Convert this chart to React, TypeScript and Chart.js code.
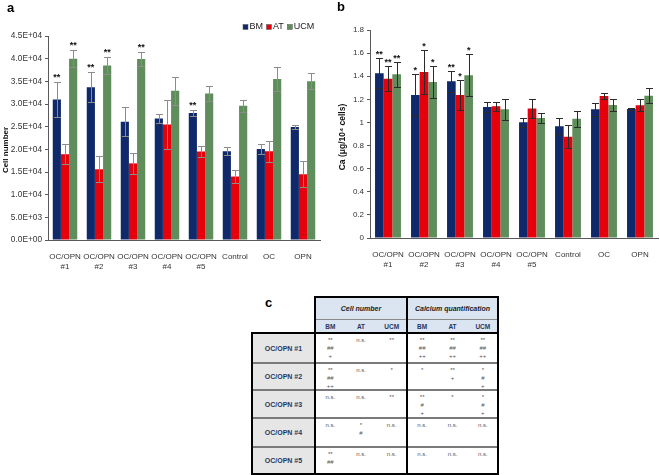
import React, { useEffect, useRef } from "react";
import { Chart, registerables } from "chart.js";
Chart.register(...registerables);

const FONT = '"Liberation Sans", Arial, Helvetica, sans-serif';

// ---------- data ----------
const categories: (string | string[])[] = [
  ["OC/OPN", "#1"], ["OC/OPN", "#2"], ["OC/OPN", "#3"], ["OC/OPN", "#4"], ["OC/OPN", "#5"],
  "Control", "OC", "OPN",
];
const seriesNames = ["BM", "AT", "UCM"];

// panel a: cell number
const cellBM = [31000, 33700, 26100, 26800, 28000, 19600, 20100, 24900];
const cellBMErr = [3800, 3300, 3200, 1100, 600, 900, 1100, 400];
const cellAT = [18900, 15600, 16900, 25500, 19500, 14000, 19600, 14500];
const cellATErr = [2200, 2900, 2400, 5400, 1200, 1400, 2300, 2900];
const cellUCM = [40000, 38500, 39900, 32900, 32300, 29600, 35500, 35000];
const cellUCMErr = [1900, 1900, 1500, 3100, 1700, 1300, 2600, 1800];
const cellBMStars = ["**", "**", "", "", "**", "", "", ""];
const cellATStars = ["", "", "", "", "", "", "", ""];
const cellUCMStars = ["**", "**", "**", "", "", "", "", ""];
const yTicksA = ["0.0E+00", "5.0E+03", "1.0E+04", "1.5E+04", "2.0E+04", "2.5E+04", "3.0E+04", "3.5E+04", "4.0E+04", "4.5E+04"];

// panel b: calcium
const caBM = [1.426, 1.238, 1.356, 1.134, 1.001, 0.967, 1.114, 1.117];
const caBMErr = [0.13, 0.18, 0.09, 0.04, 0.04, 0.07, 0.055, 0.005];
const caAT = [1.379, 1.437, 1.238, 1.14, 1.12, 0.877, 1.229, 1.149];
const caATErr = [0.11, 0.19, 0.13, 0.04, 0.08, 0.1, 0.03, 0.05];
const caUCM = [1.417, 1.351, 1.408, 1.114, 1.039, 1.033, 1.152, 1.232];
const caUCMErr = [0.11, 0.14, 0.18, 0.09, 0.04, 0.07, 0.055, 0.065];
const caBMStars = ["**", "*", "**", "", "", "", "", ""];
const caATStars = ["**", "*", "*", "", "", "", "", ""];
const caUCMStars = ["**", "*", "*", "", "", "", "", ""];
const yTicksB = ["0", "0.2", "0.4", "0.6", "0.8", "1", "1.2", "1.4", "1.6", "1.8"];

// panel c: significance table
const tableGroups = ["Cell number", "Calcium quantification"];
const tableRows = ["OC/OPN #1", "OC/OPN #2", "OC/OPN #3", "OC/OPN #4", "OC/OPN #5"];
const tableCellNumber = [
  ["**\n##\n+", "n.s.", "**"],
  ["**\n##\n++", "n.s.", "*"],
  ["n.s.", "n.s.", "**"],
  ["n.s.", "*\n#", "n.s."],
  ["**\n##", "n.s.", "n.s."],
];
const tableCalcium = [
  ["**\n##\n++", "**\n##\n++", "**\n##\n++"],
  ["*", "**\n+", "*\n#\n+"],
  ["**\n#\n+", "*", "*\n#\n+"],
  ["n.s.", "n.s.", "n.s."],
  ["n.s.", "n.s.", "n.s."],
];

// ---------- styles ----------
const COLORS = ["#10296a", "#e6000b", "#5f8d5b"];
const AXIS = "#595959";
const TICK = "#333333";

const errPlugin = {
  id: "errbars",
  afterDatasetsDraw(chart: any, _args: any, opts: any) {
    const ctx = chart.ctx;
    const ys = chart.scales.y;
    chart.data.datasets.forEach((ds: any, di: number) => {
      const meta = chart.getDatasetMeta(di);
      const errs = opts.errors[di];
      const stars = opts.stars[di];
      meta.data.forEach((bar: any, i: number) => {
        const v = ds.data[i];
        const e = errs[i];
        const x = Math.round(bar.x) + 0.5;
        const yt = Math.round(ys.getPixelForValue(v + e)) + 0.5;
        const yb = Math.round(ys.getPixelForValue(v - e)) + 0.5;
        const c = opts.cap;
        ctx.save();
        ctx.strokeStyle = opts.color;
        ctx.lineWidth = 1;
        ctx.beginPath();
        ctx.moveTo(x, yt); ctx.lineTo(x, yb);
        ctx.moveTo(x - c, yt); ctx.lineTo(x + c, yt);
        ctx.moveTo(x - c, yb); ctx.lineTo(x + c, yb);
        ctx.stroke();
        if (stars[i]) {
          ctx.fillStyle = "#111";
          ctx.font = `bold 9px ${FONT}`;
          ctx.textAlign = "center";
          ctx.textBaseline = "alphabetic";
          ctx.fillText(stars[i], bar.x, yt - opts.starGap);
        }
        ctx.restore();
      });
    });
  },
};

const decoPlugin = {
  id: "deco",
  afterDraw(chart: any, _args: any, opts: any) {
    const ctx = chart.ctx;
    ctx.save();
    ctx.translate(opts.titleX, opts.titleY);
    ctx.rotate(-Math.PI / 2);
    ctx.fillStyle = "#111";
    ctx.font = `bold ${opts.titleSize}px ${FONT}`;
    ctx.textAlign = "center";
    ctx.textBaseline = "middle";
    ctx.fillText(opts.title, 0, 0);
    ctx.restore();
    if (opts.legend) {
      ctx.save();
      ctx.font = `9px ${FONT}`;
      ctx.textBaseline = "middle";
      ctx.textAlign = "left";
      let x = opts.legendX;
      const y = opts.legendY;
      seriesNames.forEach((n, i) => {
        ctx.fillStyle = COLORS[i];
        ctx.fillRect(x, y - 2.5, 5, 5);
        ctx.strokeStyle = "#555";
        ctx.lineWidth = 0.5;
        ctx.strokeRect(x, y - 2.5, 5, 5);
        x += 6.5;
        ctx.fillStyle = "#222";
        ctx.fillText(n, x, y);
        x += ctx.measureText(n).width + 3.5;
      });
      ctx.restore();
    }
  },
};

function buildConfig(p: any) {
  return {
    type: "bar",
    data: {
      labels: categories,
      datasets: seriesNames.map((n, i) => ({
        label: n,
        data: p.values[i],
        backgroundColor: COLORS[i],
        borderWidth: 0,
        categoryPercentage: 0.72,
        barPercentage: 1,
      })),
    },
    options: {
      responsive: false,
      animation: false,
      events: [],
      layout: { padding: { top: p.padTop, right: p.padRight, left: 0, bottom: 0 } },
      plugins: {
        legend: { display: false },
        tooltip: { enabled: false },
        errbars: { errors: p.errors, stars: p.stars, color: p.errColor, cap: 3.5, starGap: p.starGap },
        deco: p.deco,
      },
      scales: {
        x: {
          grid: { display: false },
          border: { display: true, color: AXIS, width: 1 },
          ticks: {
            color: TICK,
            font: { family: FONT, size: 8, lineHeight: 1.25 },
            maxRotation: 0,
            autoSkip: false,
            padding: 4,
          },
          afterFit: (s: any) => { s.height = p.xH; },
        },
        y: {
          min: 0,
          max: p.max,
          ticks: {
            stepSize: p.step,
            callback: (_v: any, i: number) => p.tickLabels[i],
            color: TICK,
            font: { family: FONT, size: p.yFont },
            padding: 3,
          },
          grid: { drawOnChartArea: false, tickLength: 3, color: AXIS },
          border: { color: AXIS, width: 1 },
          afterFit: (s: any) => { s.width = p.yW; },
        },
      },
    },
    plugins: [errPlugin, decoPlugin],
  };
}

function ChartBox({ left, top, width, height, params }: any) {
  const ref = useRef<HTMLCanvasElement>(null);
  useEffect(() => {
    const chart = new Chart(ref.current as HTMLCanvasElement, buildConfig(params) as any);
    return () => chart.destroy();
  }, []);
  return (
    <canvas
      ref={ref}
      width={width}
      height={height}
      style={{ position: "absolute", left, top, width, height }}
    />
  );
}

function hl(key: string, x1: number, x2: number, y: number, w: number, color: string) {
  return <div key={key} style={{ position: "absolute", left: x1 - w / 2, top: y - w / 2, width: x2 - x1 + w, height: w, background: color }} />;
}
function vl(key: string, x: number, y1: number, y2: number, w: number, color: string) {
  return <div key={key} style={{ position: "absolute", left: x - w / 2, top: y1 - w / 2, width: w, height: y2 - y1 + w, background: color }} />;
}

function SigTable() {
  const colX = [315, 345.67, 376.33, 407, 437.33, 467.67, 498];
  const rowY = [333, 363, 390, 418, 447, 474];
  const labL = 252;
  const topY = 297;
  const midY = 319;
  const NAVY = "#1f3864";
  const items: any[] = [];
  items.push(<div key="hbg" style={{ position: "absolute", left: colX[0], top: topY, width: colX[6] - colX[0], height: rowY[0] - topY, background: "#dbe4f1" }} />);
  items.push(<div key="lbg" style={{ position: "absolute", left: labL, top: rowY[0], width: colX[0] - labL, height: rowY[5] - rowY[0], background: "#e6e6e6" }} />);
  tableGroups.forEach((g, gi) => {
    items.push(
      <div key={"g" + gi} style={{ position: "absolute", left: colX[gi * 3], top: topY, width: colX[gi * 3 + 3] - colX[gi * 3], height: midY - topY, display: "flex", alignItems: "center", justifyContent: "center", fontFamily: FONT, fontStyle: "italic", fontWeight: "bold", fontSize: 7, color: "#222" }}>{g}</div>
    );
    seriesNames.forEach((s, si) => {
      const c = gi * 3 + si;
      items.push(
        <div key={"s" + c} style={{ position: "absolute", left: colX[c], top: midY, width: colX[c + 1] - colX[c], height: rowY[0] - midY, display: "flex", alignItems: "center", justifyContent: "center", fontFamily: FONT, fontWeight: "bold", fontSize: 6.5, color: NAVY }}>{s}</div>
      );
    });
  });
  tableRows.forEach((r, ri) => {
    items.push(
      <div key={"r" + ri} style={{ position: "absolute", left: labL, top: rowY[ri], width: colX[0] - labL, height: rowY[ri + 1] - rowY[ri], display: "flex", alignItems: "center", justifyContent: "center", fontFamily: FONT, fontWeight: "bold", fontSize: 7, color: NAVY }}>{r}</div>
    );
    const vals = [...tableCellNumber[ri], ...tableCalcium[ri]];
    vals.forEach((t, ci) => {
      items.push(
        <div key={"c" + ri + "_" + ci} style={{ position: "absolute", left: colX[ci], top: rowY[ri] + 3, width: colX[ci + 1] - colX[ci], textAlign: "center", whiteSpace: "pre-line", fontFamily: FONT, fontSize: 6, lineHeight: "8px", color: "#555" }}>{t}</div>
      );
    });
  });
  // lines
  items.push(hl("l1", colX[0], colX[6], midY, 1, "#8a8a8a"));
  for (let i = 1; i < 5; i++) items.push(hl("rs" + i, labL, colX[6], rowY[i], 2, "#7a7a7a"));
  items.push(hl("ht", colX[0], colX[6], topY, 2, "#000"));
  items.push(hl("bt", labL, colX[6], rowY[0], 2, "#000"));
  items.push(hl("bb", labL, colX[6], rowY[5], 2, "#000"));
  items.push(vl("vl", labL, rowY[0], rowY[5], 2, "#000"));
  items.push(vl("v0", colX[0], topY, rowY[5], 2, "#000"));
  items.push(vl("v3", colX[3], topY, rowY[5], 2, "#000"));
  items.push(vl("v6", colX[6], topY, rowY[5], 2, "#000"));
  return <>{items}</>;
}

const paramsA = {
  values: [cellBM, cellAT, cellUCM],
  errors: [cellBMErr, cellATErr, cellUCMErr],
  stars: [cellBMStars, cellATStars, cellUCMStars],
  errColor: "#8c8c8c",
  starGap: 3,
  max: 45000,
  step: 5000,
  tickLabels: yTicksA,
  yFont: 8.3,
  padTop: 36,
  padRight: 10,
  xH: 50,
  yW: 48,
  deco: { title: "Cell number", titleX: 6, titleY: 150, titleSize: 8, legend: true, legendX: 243, legendY: 27 },
};

const paramsB = {
  values: [caBM, caAT, caUCM],
  errors: [caBMErr, caATErr, caUCMErr],
  stars: [caBMStars, caATStars, caUCMStars],
  errColor: "#2b2b2b",
  starGap: 2,
  max: 1.8,
  step: 0.2,
  tickLabels: yTicksB,
  yFont: 8,
  padTop: 30,
  padRight: 2,
  xH: 52,
  yW: 40,
  deco: { title: "Ca (\u03bcg/10\u2074 cells)", titleX: 13, titleY: 137, titleSize: 8.5, legend: false },
};

export default function App() {
  const lab = (t: string, left: number, top: number) => (
    <div style={{ position: "absolute", left, top, fontFamily: FONT, fontWeight: "bold", fontSize: 13, lineHeight: "13px", color: "#000" }}>{t}</div>
  );
  return (
    <div style={{ position: "absolute", left: 0, top: 0, width: 660, height: 475, background: "#fff", overflow: "hidden" }}>
      <ChartBox left={0} top={0} width={330} height={290} params={paramsA} />
      <ChartBox left={330} top={0} width={330} height={290} params={paramsB} />
      {lab("a", 7, 1)}
      {lab("b", 337, 0)}
      {lab("c", 265, 296)}
      <SigTable />
    </div>
  );
}
